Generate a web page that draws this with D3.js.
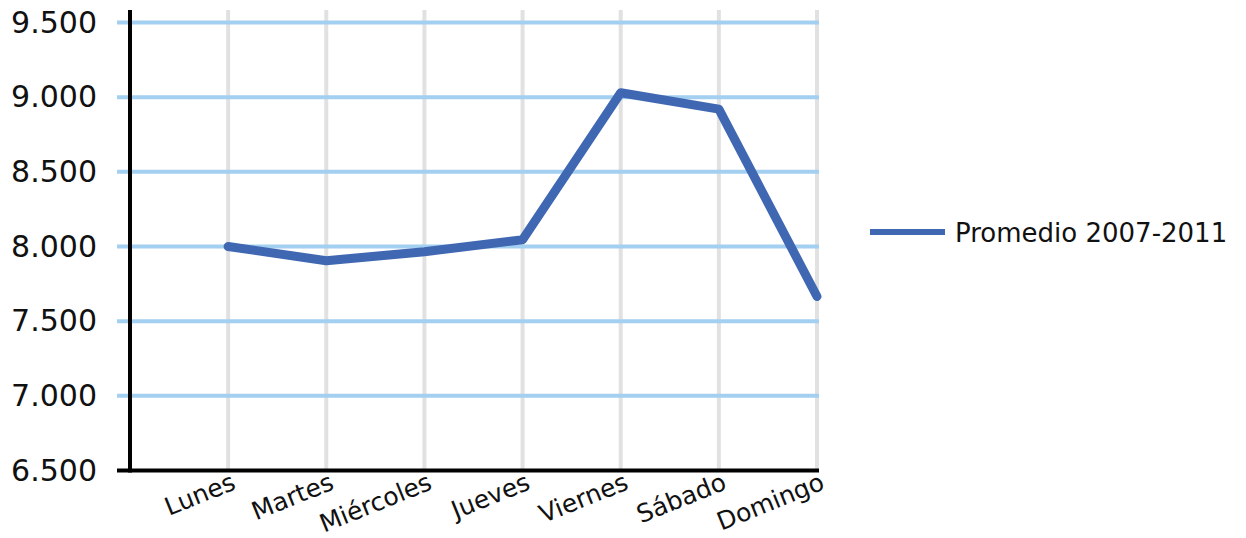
<!DOCTYPE html>
<html>
<head>
<meta charset="utf-8">
<script src="https://cdn.jsdelivr.net/npm/d3@7"></script>
<style>
  body { margin: 0; background: #fff; }
  text { font-family: "DejaVu Sans", Verdana, sans-serif; fill: #111; }
</style>
</head>
<body>
<div id="chart"></div>
<script>
// data
const dias = ["Lunes", "Martes", "Miércoles", "Jueves", "Viernes", "Sábado", "Domingo"];
const promedio = [8000, 7905, 7965, 8045, 9030, 8920, 7665];
const yTicks = [6500, 7000, 7500, 8000, 8500, 9000, 9500];
const serieNombre = "Promedio 2007-2011";

const width = 1246, height = 538;
const margin = {left: 130, right: 817, top: 22.5, bottom: 470.5};

let svg = d3.select("#chart")
    .append("svg")
    .attr("width", width)
    .attr("height", height);

// index 0 is the axis itself, days sit at 1..7
let x = d3.scaleLinear()
    .domain([0, dias.length])
    .range([margin.left, margin.right]);

let y = d3.scaleLinear()
    .domain([6500, 9500])
    .range([margin.bottom, margin.top]);

// vertical grid
svg.append("g")
    .selectAll("line")
    .data(dias)
    .enter().append("line")
    .attr("x1", (d, i) => x(i + 1))
    .attr("x2", (d, i) => x(i + 1))
    .attr("y1", 10)
    .attr("y2", margin.bottom)
    .attr("stroke", "#e1e1e1")
    .attr("stroke-width", 4);

// horizontal grid
svg.append("g")
    .selectAll("line")
    .data(yTicks.filter(d => d > 6500))
    .enter().append("line")
    .attr("x1", 117)
    .attr("x2", margin.right + 2)
    .attr("y1", d => y(d))
    .attr("y2", d => y(d))
    .attr("stroke", "#a3cff0")
    .attr("stroke-width", 4);

// y axis
let yAxis = svg.append("g")
    .attr("transform", `translate(${margin.left},0)`)
    .call(d3.axisLeft(y).tickValues(yTicks).tickSize(0).tickPadding(33)
        .tickFormat(d => d3.format(",")(d).replace(",", ".")));
yAxis.select(".domain").remove();
yAxis.selectAll("text")
    .style("font-size", "30px")
    .attr("fill", "#111");

svg.append("line")
    .attr("x1", margin.left).attr("x2", margin.left)
    .attr("y1", 10).attr("y2", margin.bottom + 2)
    .attr("stroke", "#000").attr("stroke-width", 4);

svg.append("line")
    .attr("x1", 117).attr("x2", margin.right + 2)
    .attr("y1", margin.bottom).attr("y2", margin.bottom)
    .attr("stroke", "#000").attr("stroke-width", 4);

// x labels
svg.append("g")
    .selectAll("text")
    .data(dias)
    .enter().append("text")
    .attr("transform", (d, i) => `translate(${x(i + 1) + 9},${margin.bottom + 18}) rotate(-22)`)
    .style("text-anchor", "end")
    .style("font-size", "25px")
    .text(d => d);

// the series
svg.append("path")
    .datum(promedio)
    .attr("fill", "none")
    .attr("stroke", "#4068b2")
    .attr("stroke-width", 9)
    .attr("stroke-linejoin", "round")
    .attr("stroke-linecap", "round")
    .attr("d", d3.line()
        .x((d, i) => x(i + 1))
        .y(d => y(d)));

// legend
let legend = svg.append("g").attr("transform", "translate(870,232)");
legend.append("line")
    .attr("x1", 0).attr("x2", 75)
    .attr("stroke", "#4068b2")
    .attr("stroke-width", 6);
legend.append("text")
    .attr("x", 85)
    .attr("y", 10)
    .style("font-size", "26px")
    .text(serieNombre);
</script>
</body>
</html>
